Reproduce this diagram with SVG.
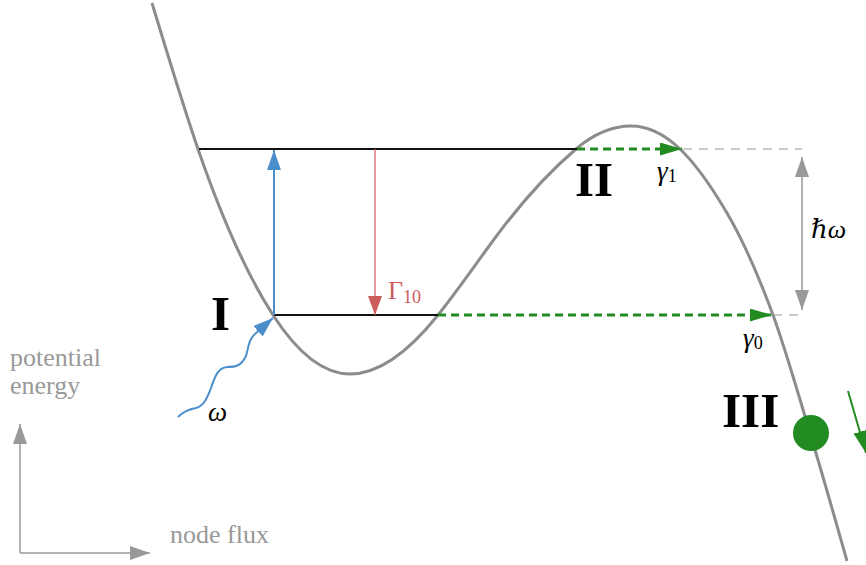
<svg xmlns="http://www.w3.org/2000/svg" width="866" height="565" viewBox="0 0 866 565">
<style>
.curve{fill:none;stroke:#8c8c8c;stroke-width:3}
.level{stroke:#111;stroke-width:2}
.gdash{stroke:#228b22;stroke-width:3;stroke-dasharray:8 5;fill:none}
.thin{stroke:#999;stroke-width:1.2;stroke-dasharray:9 7}
.axis{stroke:#999;stroke-width:1.5;fill:none}
text{font-family:"Liberation Serif","DejaVu Serif",serif}
.big{font-weight:bold;font-size:49px;fill:#000}
.ax{font-size:26px;fill:#999}
</style>
<defs>
<marker id="ag" markerUnits="userSpaceOnUse" markerWidth="22" markerHeight="13" refX="22" refY="6.5" orient="auto"><path d="M0,0 L22,6.5 L0,13 z" fill="#228b22"/></marker>
<marker id="ab" markerUnits="userSpaceOnUse" markerWidth="20" markerHeight="14" refX="20" refY="7" orient="auto"><path d="M0,0 L20,7 L0,14 z" fill="#4a8fcc"/></marker>
<marker id="ar" markerUnits="userSpaceOnUse" markerWidth="19" markerHeight="14" refX="19" refY="7" orient="auto"><path d="M0,0 L19,7 L0,14 z" fill="#cd5c5c"/></marker>
<marker id="ay" markerUnits="userSpaceOnUse" markerWidth="20" markerHeight="14" refX="20" refY="7" orient="auto-start-reverse"><path d="M0,0 L20,7 L0,14 z" fill="#999"/></marker>
</defs>
<g id="potential">
<path class="curve" d="M152,3 C167.3,53.6 182.7,104.5 198,149 C223,221.5 248,276.3 273,315 C298.7,354.8 324.3,374 350,374 C379.3,374 408.7,351.7 438,315 C457,291.25 476,263.65 495,238 C522,201.55 549,171.95 576,149 C594.3,133.4 612.7,126 631,126 C647.3,126 663.7,133.5 680,149 C695.7,163.9 711.3,186.4 727,213 C742.3,239.1 757.7,273.6 773,315 C785.3,348.3 797.7,392.3 810,433 C822.3,473.7 834.7,517.5 847,561"/>
</g>
<g id="connectors">
<line class="level" x1="199" y1="149" x2="577" y2="149"/>
<line class="level" x1="274" y1="315" x2="438" y2="315"/>
<line class="thin" x1="683" y1="149" x2="802" y2="149"/>
<line class="thin" x1="773" y1="315" x2="802" y2="315"/>
<line class="gdash" x1="577" y1="149" x2="682" y2="149" marker-end="url(#ag)"/>
<line class="gdash" x1="438" y1="315" x2="772" y2="315" marker-end="url(#ag)"/>
<line x1="274" y1="315" x2="274" y2="150" stroke="#4a8fcc" stroke-width="2" marker-end="url(#ab)"/>
<line x1="375" y1="149" x2="375" y2="315" stroke="#cd5c5c" stroke-width="1.2" marker-end="url(#ar)"/>
<line x1="802" y1="157" x2="802" y2="310" stroke="#999" stroke-width="1.5" marker-start="url(#ay)" marker-end="url(#ay)"/>
<path d="M178,417 C184,411 190,409 196,408 C204,406 207,398 211,388 C215,376 218,368 227,367 C236,367 241,366 246,356 C249,346 248,340 256,333 L273,318" fill="none" stroke="#4a8fcc" stroke-width="2" marker-end="url(#ab)"/>
<line x1="848" y1="391" x2="866" y2="453" stroke="#228b22" stroke-width="2" marker-end="url(#ag)"/>
<line class="axis" x1="20" y1="553" x2="20" y2="424" marker-end="url(#ay)"/>
<line class="axis" x1="20" y1="553" x2="150" y2="553" marker-end="url(#ay)"/>
</g>
<g id="state-I"><text class="big" x="211" y="330">I</text></g>
<g id="state-II"><text class="big" x="575" y="196">II</text></g>
<g id="state-III"><text class="big" x="722" y="427">III</text></g>
<g id="particle"><circle cx="811" cy="433" r="18" fill="#228b22"/></g>
<g id="labels">
<text x="388" y="299" font-family="Liberation Serif, DejaVu Serif, serif" font-size="26" fill="#cd5c5c">Γ<tspan font-size="18" dy="4">10</tspan></text>
<text x="657" y="180" font-family="Liberation Serif, DejaVu Serif, serif" font-size="27" font-style="italic" fill="#000">γ<tspan font-size="18" font-style="normal" dy="2">1</tspan></text>
<text x="743" y="347" font-family="Liberation Serif, DejaVu Serif, serif" font-size="27" font-style="italic" fill="#000">γ<tspan font-size="18" font-style="normal" dy="2">0</tspan></text>
<text x="811" y="238" font-family="Liberation Serif, DejaVu Serif, serif" font-size="26" font-style="italic" fill="#000">ℏω</text>
<text x="208" y="421" font-family="Liberation Serif, DejaVu Serif, serif" font-size="27" font-style="italic" fill="#000">ω</text>
<text class="ax" x="10" y="366" font-family="Liberation Serif, DejaVu Serif, serif">potential</text>
<text class="ax" x="10" y="394" font-family="Liberation Serif, DejaVu Serif, serif">energy</text>
<text class="ax" x="170" y="543" font-family="Liberation Serif, DejaVu Serif, serif">node flux</text>
</g>
</svg>
